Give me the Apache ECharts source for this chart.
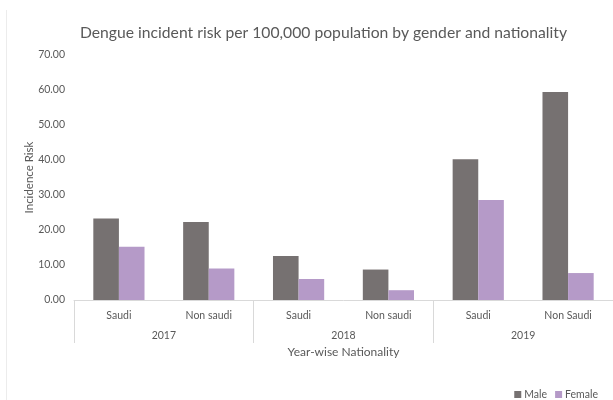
<!DOCTYPE html>
<html><head><meta charset="utf-8">
<script src="https://cdn.jsdelivr.net/npm/echarts@6/dist/echarts.min.js"></script>
<style>html,body{margin:0;padding:0;background:#fff}#c{width:613px;height:400px}</style>
</head><body><div id="c"></div>
<script>
const categories = ['Saudi','Non saudi','Saudi','Non saudi','Saudi','Non Saudi'];
const years = ['2017','2018','2019'];
const male = [23.3, 22.3, 12.6, 8.7, 40.2, 59.4];
const female = [15.2, 9.0, 6.0, 2.8, 28.6, 7.7];
const yTicks = {min:0, max:70, interval:10};

const txt = '#595959';
const font = 'Lato';
const chart = echarts.init(document.getElementById('c'));
chart.setOption({
  animation:false,
  textStyle:{fontFamily:font},
  graphic:[{type:'line', shape:{x1:6.5,y1:10,x2:6.5,y2:400}, style:{stroke:'#ececec',lineWidth:1}, silent:true}],
  title:{text:'Dengue incident risk per 100,000 population by gender and nationality',
    left:75, top:20, textStyle:{fontFamily:font,fontSize:15.7,fontWeight:'normal',color:txt}},
  legend:{right:10, top:384, itemWidth:7, itemHeight:7, itemGap:8, icon:'rect',
    textStyle:{fontFamily:font,fontSize:10.5,color:txt,padding:[0,0,0,-2]}},
  grid:{left:74, right:-4, top:55, bottom:100},
  xAxis:[
    {type:'category', data:categories, position:'bottom',
     axisLine:{lineStyle:{color:'#d9d9d9'}}, axisTick:{show:false},
     axisLabel:{color:txt,fontSize:10.5,margin:10,interval:0}},
    {type:'category', data:years, position:'bottom', offset:0,
     axisLine:{show:false},
     axisTick:{show:true,length:43,lineStyle:{color:'#d9d9d9'}},
     axisLabel:{color:txt,fontSize:10.5,margin:30},
     name:'Year-wise Nationality', nameLocation:'middle', nameGap:46, nameMoveOverlap:false,
     nameTextStyle:{color:txt,fontSize:12,fontFamily:font}}
  ],
  yAxis:{type:'value', min:yTicks.min, max:yTicks.max, interval:yTicks.interval,
    splitLine:{show:false}, axisLine:{show:false}, axisTick:{show:false},
    axisLabel:{color:txt,fontSize:10.5,margin:9,formatter:v=>v.toFixed(2)},
    name:'Incidence Risk', nameLocation:'middle', nameGap:39, nameMoveOverlap:false,
    nameTextStyle:{color:txt,fontSize:11.5,fontFamily:font}},
  series:[
    {name:'Male', type:'bar', data:male, xAxisIndex:0, barGap:'0%', barCategoryGap:'43%',
     itemStyle:{color:'#767171'}},
    {name:'Female', type:'bar', data:female, xAxisIndex:0,
     itemStyle:{color:'#b59ac8'}}
  ]
});
</script></body></html>
